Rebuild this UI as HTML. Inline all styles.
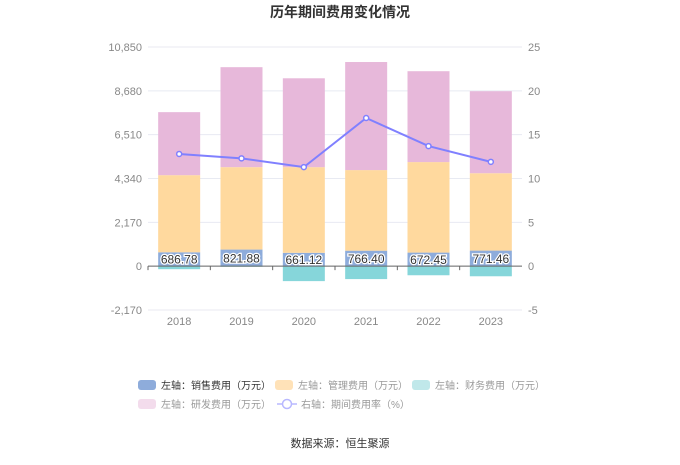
<!DOCTYPE html>
<html><head><meta charset="utf-8"><style>
body{margin:0;background:#fff;font-family:"Liberation Sans","Noto Sans CJK SC",sans-serif;}
svg text{font-family:"Liberation Sans","Noto Sans CJK SC",sans-serif;}
</style></head><body>
<svg id="c" width="680" height="460">
<text x="340" y="17" text-anchor="middle" font-size="14" font-weight="bold" fill="#333">历年期间费用变化情况</text>
<g id="grid"></g><g id="bars"></g><g id="line"></g><g id="axes"></g>
<g font-size="10">
<rect x="138" y="380" width="18" height="10" rx="3" fill="#8eacdb"/>
<text x="161" y="389" fill="#333">左轴：销售费用（万元）</text>
<rect x="275" y="380" width="18" height="10" rx="3" fill="#ffe2b8"/>
<text x="298" y="389" fill="#999">左轴：管理费用（万元）</text>
<rect x="412" y="380" width="18" height="10" rx="3" fill="#c0e8ea"/>
<text x="435" y="389" fill="#999">左轴：财务费用（万元）</text>
<rect x="138" y="399" width="18" height="10" rx="3" fill="#f3dcec"/>
<text x="161" y="408" fill="#999">左轴：研发费用（万元）</text>
<line x1="277" y1="404" x2="297" y2="404" stroke="#b8b8ff" stroke-width="1.5"/>
<circle cx="287" cy="404" r="4.5" fill="#fff" stroke="#b8b8ff" stroke-width="1.5"/>
<text x="301" y="408" fill="#999">右轴：期间费用率（%）</text>
</g>
<text x="340" y="447" text-anchor="middle" font-size="11" fill="#333">数据来源：恒生聚源</text>
</svg>
<script>
const years=['2018','2019','2020','2021','2022','2023'];
const sales=[686.78,821.88,661.12,766.40,672.45,771.46];
const mgmt=[3818,4080,4240,3990,4480,3830];
const finance=[-150,-30,-740,-640,-450,-500];
const rd=[3120,4950,4400,5350,4500,4060];
const rate=[12.8,12.3,11.3,16.9,13.7,11.9];
const leftTicks=[-2170,0,2170,4340,6510,8680,10850];
const rightTicks=[-5,0,5,10,15,20,25];
const NS='http://www.w3.org/2000/svg';
const x0=148,x1=522,yTop=47,yBot=310;
const yL=v=>yBot-(v+2170)/13020*(yBot-yTop);
const yR=v=>yBot-(v+5)/30*(yBot-yTop);
const xc=i=>x0+(x1-x0)/years.length*(i+0.5);
function mk(t,a,p){const e=document.createElementNS(NS,t);for(const k in a)e.setAttribute(k,a[k]);p.appendChild(e);return e;}
const grid=document.getElementById('grid'),axes=document.getElementById('axes'),bars=document.getElementById('bars'),line=document.getElementById('line');
leftTicks.forEach((v,i)=>{
 const g=mk('line',{x1:x0,x2:x1,y1:yL(v),y2:yL(v),stroke:'#e8eaf2'},grid);
 
 
 const t=mk('text',{x:142,y:yL(v)+4,'text-anchor':'end','font-size':11,fill:'#888'},axes);
 t.textContent=v.toLocaleString('en-US');
 
 
});
rightTicks.forEach(v=>{
 const t=mk('text',{x:528,y:yR(v)+4,'text-anchor':'start','font-size':11,fill:'#888'},axes);
 t.textContent=v;
 
 
});
const bw=42;
years.forEach((y,i)=>{
 const cx=xc(i);
 function bar(lo,hi,col,name){const r=mk('rect',{x:cx-bw/2,y:Math.min(yL(lo),yL(hi)),width:bw,height:Math.abs(yL(lo)-yL(hi)),fill:col},bars);
  
  }
 bar(finance[i],0,'#86d6da','bar-finance-'+y);
 bar(0,sales[i],'#8eacdb','bar-sales-'+y);
 bar(sales[i],sales[i]+mgmt[i],'#ffd99e','bar-mgmt-'+y);
 bar(sales[i]+mgmt[i],sales[i]+mgmt[i]+rd[i],'#e7b8da','bar-rd-'+y);
 const l=mk('text',{x:cx,y:yL(sales[i]/2)+4.5,'text-anchor':'middle','font-size':12,fill:'#333',stroke:'#fff','stroke-width':2.5,'paint-order':'stroke'},bars);
 l.textContent=sales[i].toFixed(2);
 
 
 const t=mk('text',{x:cx,y:325,'text-anchor':'middle','font-size':11,fill:'#888'},axes);
 t.textContent=y;
 
 
 const tk=mk('line',{x1:x0+(x1-x0)/6*i,x2:x0+(x1-x0)/6*i,y1:yL(0),y2:yL(0)+4,stroke:'#666'},axes);
 
 
});
const ax=mk('line',{x1:x0,x2:x1,y1:yL(0),y2:yL(0),stroke:'#666'},axes);


const pl=mk('polyline',{points:rate.map((v,i)=>xc(i)+','+yR(v)).join(' '),fill:'none',stroke:'#8080ff','stroke-width':2},line);


rate.forEach((v,i)=>{
 const c=mk('circle',{cx:xc(i),cy:yR(v),r:2.5,fill:'#fff',stroke:'#8080ff','stroke-width':1.5},line);
 
 
});
</script>
</body></html>
